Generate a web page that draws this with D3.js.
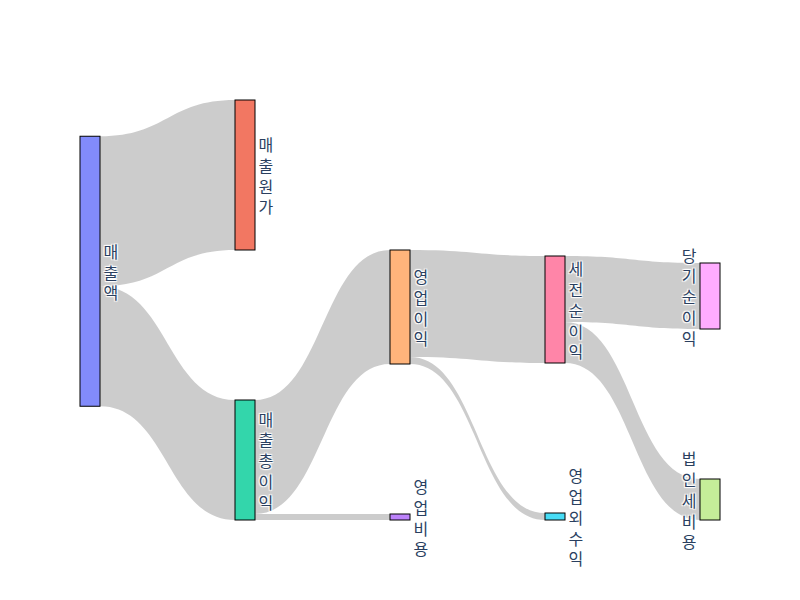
<!DOCTYPE html>
<html>
<head>
<meta charset="utf-8">
<script src="https://cdn.jsdelivr.net/npm/d3@7"></script>
<style>
body { margin: 0; background: #fff; }
.node-label {
    font-family: "Open Sans", "Noto Sans CJK KR", sans-serif;
    font-size: 16px;
    fill: #2a3f5f;
    text-shadow: 1px 1px 1px #fff, -1px -1px 1px #fff, 1px -1px 1px #fff, -1px 1px 1px #fff;
}
</style>
</head>
<body>
<svg id="chart" width="800" height="600"></svg>
<script>

// node labels and colours, in plotly colorway order
const nodeNames = ['매출액', '매출원가', '매출총이익', '영업비용', '영업이익', '영업외수익', '세전순이익', '법인세비용', '당기순이익']
const nodeColors = ['#636efa', '#EF553B', '#00cc96', '#ab63fa', '#FFA15A', '#19d3f3', '#FF6692', '#B6E880', '#FF97FF']

// flows
const linkSources = [0, 0, 2, 2, 4, 4, 6, 6]
const linkTargets = [1, 2, 3, 4, 5, 6, 7, 8]
const linkValues  = [150, 120, 6, 114, 7, 107, 41, 66]

const width = 800
const height = 600
const margin = { top: 100, right: 80, bottom: 80, left: 80 }
const innerW = width - margin.left - margin.right
const innerH = height - margin.top - margin.bottom

const nodeWidth = 20
const nodePadding = 150
const iterations = 50

// small sankey layout (same steps as the old d3-sankey plugin)
function layoutSankey (nodes, links) {

    nodes.forEach((n, i) => { n.index = i; n.sourceLinks = []; n.targetLinks = [] })
    links.forEach(l => {
        l.source = nodes[l.source]
        l.target = nodes[l.target]
        l.source.sourceLinks.push(l)
        l.target.targetLinks.push(l)
    })

    nodes.forEach(n => {
        n.value = Math.max(d3.sum(n.sourceLinks, l => l.value), d3.sum(n.targetLinks, l => l.value))
    })

    // depths, left aligned
    let current = nodes.filter(n => !n.targetLinks.length)
    let depth = 0
    nodes.forEach(n => { n.depth = 0 })
    while (current.length) {
        const next = []
        current.forEach(n => {
            n.depth = depth
            n.sourceLinks.forEach(l => next.push(l.target))
        })
        current = Array.from(new Set(next))
        depth++
    }
    const nCols = d3.max(nodes, n => n.depth) + 1

    const xscale = d3.scaleLinear().domain([0, nCols - 1]).range([0, innerW - nodeWidth])
    nodes.forEach(n => { n.x0 = xscale(n.depth); n.x1 = n.x0 + nodeWidth })

    const columns = d3.range(nCols).map(c => nodes.filter(n => n.depth === c))

    const py = nodePadding
    const ky = d3.min(columns, c => (innerH - (c.length - 1) * py) / d3.sum(c, n => n.value))
    const yscale = d3.scaleLinear().domain([0, 1]).range([0, ky])

    columns.forEach(col => col.forEach((n, i) => { n.y0 = i; n.y1 = i + yscale(n.value) }))
    links.forEach(l => { l.width = yscale(l.value) })

    const center = n => (n.y0 + n.y1) / 2

    function resolveCollisions () {
        columns.forEach(col => {
            let y = 0
            let node
            col.sort((a, b) => a.y0 - b.y0)
            for (let i = 0; i < col.length; i++) {
                node = col[i]
                const dy = y - node.y0
                if (dy > 0) { node.y0 += dy; node.y1 += dy }
                y = node.y1 + py
            }
            let dy = y - py - innerH
            if (dy > 0) {
                y = (node.y0 -= dy); node.y1 -= dy
                for (let i = col.length - 2; i >= 0; i--) {
                    node = col[i]
                    dy = node.y1 + py - y
                    if (dy > 0) { node.y0 -= dy; node.y1 -= dy }
                    y = node.y0
                }
            }
        })
    }

    function relaxLeftToRight (alpha) {
        columns.forEach(col => col.forEach(n => {
            if (n.targetLinks.length) {
                const dy = (d3.sum(n.targetLinks, l => center(l.source) * l.value) / d3.sum(n.targetLinks, l => l.value) - center(n)) * alpha
                n.y0 += dy; n.y1 += dy
            }
        }))
    }

    function relaxRightToLeft (alpha) {
        columns.slice().reverse().forEach(col => col.forEach(n => {
            if (n.sourceLinks.length) {
                const dy = (d3.sum(n.sourceLinks, l => center(l.target) * l.value) / d3.sum(n.sourceLinks, l => l.value) - center(n)) * alpha
                n.y0 += dy; n.y1 += dy
            }
        }))
    }

    resolveCollisions()
    for (let alpha = 1, k = iterations; k > 0; --k) {
        relaxRightToLeft(alpha *= 0.99)
        resolveCollisions()
        relaxLeftToRight(alpha)
        resolveCollisions()
    }

    nodes.forEach(n => {
        n.sourceLinks.sort((a, b) => a.target.y0 - b.target.y0)
        n.targetLinks.sort((a, b) => a.source.y0 - b.source.y0)
    })
    nodes.forEach(n => {
        let ys = n.y0
        let yt = n.y0
        n.sourceLinks.forEach(l => { l.y0 = ys + l.width / 2; ys += l.width })
        n.targetLinks.forEach(l => { l.y1 = yt + l.width / 2; yt += l.width })
    })

    return { nodes, links, nCols }
}

const graph = layoutSankey(
    nodeNames.map((name, i) => ({ name, color: nodeColors[i] })),
    linkSources.map((s, i) => ({ source: s, target: linkTargets[i], value: linkValues[i] }))
)

const svg = d3.select('#chart')
const g = svg.append('g').attr('transform', `translate(${margin.left},${margin.top})`)

// links as filled bands, curvature 0.5
function bandPath (l) {
    const x0 = l.source.x1
    const x1 = l.target.x0
    const xi = d3.interpolateNumber(x0, x1)
    const x2 = xi(0.5)
    const x3 = xi(0.5)
    const h = l.width / 2
    const p = d3.path()
    p.moveTo(x0, l.y0 - h)
    p.bezierCurveTo(x2, l.y0 - h, x3, l.y1 - h, x1, l.y1 - h)
    p.lineTo(x1, l.y1 + h)
    p.bezierCurveTo(x3, l.y1 + h, x2, l.y0 + h, x0, l.y0 + h)
    p.closePath()
    return p.toString()
}

g.append('g').attr('id', 'links')
    .selectAll('path')
    .data(graph.links)
    .enter()
    .append('path')
    .attr('d', bandPath)
    .attr('fill', 'rgba(0,0,0,0.2)')

const nodeG = g.append('g').attr('id', 'nodes')
    .selectAll('g')
    .data(graph.nodes)
    .enter()
    .append('g')

nodeG.append('rect')
    .attr('x', d => d.x0)
    .attr('y', d => d.y0)
    .attr('width', d => d.x1 - d.x0)
    .attr('height', d => Math.max(1, d.y1 - d.y0))
    .attr('fill', d => d.color)
    .attr('fill-opacity', 0.8)
    .attr('stroke', '#000')
    .attr('stroke-width', 1)

// stacked one-character-per-line labels, centred on the node
const fontSize = 16
const lineSpacing = 1.3
nodeG.append('text')
    .attr('class', 'node-label')
    .each(function (d) {
        const chars = Array.from(d.name)
        const flip = d.depth === graph.nCols - 1
        const x = flip ? d.x0 - 3.5 : d.x1 + 3.5
        const blockH = fontSize * ((chars.length - 1) * lineSpacing - 0.35)
        const yFirst = (d.y0 + d.y1) / 2 - blockH / 2 + fontSize * 0.28
        const t = d3.select(this)
            .attr('text-anchor', flip ? 'end' : 'start')
            .attr('x', x)
            .attr('y', yFirst)
        chars.forEach((c, i) => {
            t.append('tspan')
                .attr('x', x)
                .attr('dy', i === 0 ? 0 : lineSpacing + 'em')
                .text(c)
        })
    })

</script>
</body>
</html>
